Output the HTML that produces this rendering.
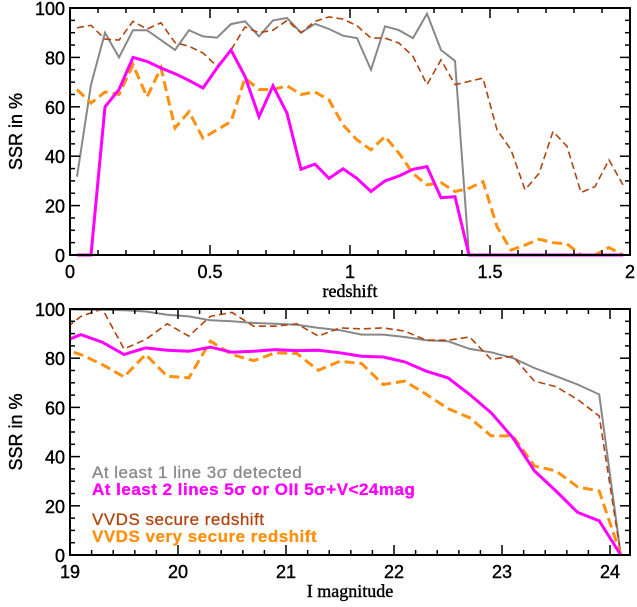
<!DOCTYPE html>
<html><head><meta charset="utf-8"><style>
html,body{margin:0;padding:0;background:#fff;}
svg{display:block;font-family:"Liberation Sans",sans-serif;}
</style></head><body>
<svg id="c" width="637" height="607" viewBox="0 0 637 607"></svg>
<script>
// ---- top panel data (redshift) ----
const zBins = [];
for (let k = 0; k < 40; k++) zBins.push(0.025 + 0.05 * k);
const topGray = [31.7,69,90,80,91,91,87,83,91,88.5,88,93.5,94.6,88.5,95,96,90,93.6,91.5,88.8,87.8,75,92.6,91,87.8,97.7,83,78.6,0,0,0,0,0,0,0,0,0,0,0,0];
const topBrown = [92,93,87.4,87,94.6,91.5,94,86,84.5,81.8,76.4,83,92.3,90,91,95,90,94.6,96.4,95.5,92.8,87.8,87.8,85.8,80.4,69,79,69,70.3,71.6,50.7,42.6,26.4,33,50,44,25.3,27.7,38.5,28.4];
const topOrange = [67,61.5,66,65,77,64,75.7,51.4,58,47.3,50.7,54,71.6,67,67,68.5,65,66,62.8,52.7,46.6,42.6,48,41.2,33,28.4,29.3,25.7,27,29.7,11.5,2,4,6.4,5,4.5,0,0,3,0];
const topMagenta = [0,0,60,67,80,78.4,75.7,73.4,70.7,67.6,75.7,83,72.3,56,68.5,57.4,34.7,36.8,31,34.9,31,25.7,30,32,34.7,35.8,23.2,23.6,0,0,0,0,0,0,0,0,0,0,0,0];
const topXTicks = ["0","0.5","1","1.5","2"];
const yTicks = ["0","20","40","60","80","100"];
// ---- bottom panel data (I magnitude) ----
const magBins = [18.9,19.1,19.3,19.5,19.7,19.9,20.1,20.3,20.5,20.7,20.9,21.1,21.3,21.5,21.7,21.9,22.1,22.3,22.5,22.7,22.9,23.1,23.3,23.5,23.7,23.9,24.1];
const botGray = [100,99.7,99.7,99.5,99,97.7,97,95.4,95,94.3,94,93.6,92.3,91.4,89.6,89.6,88.6,87.3,86.9,83.8,82.4,80.1,76,72.7,69.3,65.3,0];
const botBrown = [90,97,100,83.8,87.6,94,89,97,98.6,93,93,94,89,92.3,91.9,92.3,91,87.3,87.3,88.6,79.5,80.8,70.7,68.4,63.2,56.5,0];
const botMagenta = [86,89.6,86.5,81.5,84.2,83.2,82.8,84.5,82.4,82.8,83.5,83.1,83.2,82.2,80.8,80.5,78.5,74.7,72,65.3,57.8,47.7,34.2,26,17.3,13.9,0];
const botOrange = [84,81.5,77.4,72.4,81.5,72.7,72,86.9,81.5,79,82.2,81.9,75.1,78.8,77.8,69.3,70.7,65.3,59.5,55.8,48.4,48.4,36.2,34.2,27.7,26,0];
const botXTicks = ["19","20","21","22","23","24"];

const NS = "http://www.w3.org/2000/svg";
const svg = document.getElementById("c");
function mk(tag, attrs, parent) {
  const e = document.createElementNS(NS, tag);
  for (const k in attrs) e.setAttribute(k, attrs[k]);
  (parent || svg).appendChild(e);
  return e;
}
const styles = {
  gray: {stroke:"#888888","stroke-width":2,fill:"none"},
  brown: {stroke:"#b0450f","stroke-width":1.6,fill:"none","stroke-dasharray":"7,4"},
  orange: {stroke:"#ff9010","stroke-width":3,fill:"none","stroke-dasharray":"10,5"},
  magenta: {stroke:"#ff00ff","stroke-width":3,fill:"none"}
};
const txtStroke = {stroke: "#000", "stroke-width": 0.4};
function panel(cfg) {
  const g = mk("g", {});
  
  
  const sx = v => cfg.x0 + (v - cfg.xmin) / (cfg.xmax - cfg.xmin) * (cfg.x1 - cfg.x0);
  const sy = v => cfg.yb - v / 100 * (cfg.yb - cfg.yt);
  const cid = cfg.name + "-clip";
  const cp = mk("clipPath", {id: cid}, g);
  mk("rect", {x: cfg.x0, y: cfg.yt - 2, width: cfg.x1 - cfg.x0, height: cfg.yb - cfg.yt + 4}, cp);
  const lines = mk("g", {"clip-path": "url(#" + cid + ")"}, g);
  cfg.series.forEach(s => {
    const d = s.vals.map((v, i) => (i ? "L" : "M") + sx(cfg.xs[i]).toFixed(1) + "," + sy(v).toFixed(1)).join(" ");
    const p = mk("path", Object.assign({d: d}, styles[s.style]), lines);
    
    
  });
  const fr = mk("rect", {x: cfg.x0, y: cfg.yt, width: cfg.x1 - cfg.x0, height: cfg.yb - cfg.yt, fill: "none", stroke: "#000", "stroke-width": 2}, g);
  
  
  const tk = mk("g", {stroke: "#000", "stroke-width": 1.5}, g);
  for (let v = cfg.xmin; v <= cfg.xmax + 1e-9; v += cfg.xminor) {
    const vv = Math.round(v * 1000) / 1000;
    const major = Math.abs(vv / cfg.xmajor - Math.round(vv / cfg.xmajor)) < 1e-6;
    const L = major ? 10 : 5, x = sx(vv);
    mk("line", {x1: x, x2: x, y1: cfg.yb, y2: cfg.yb - L}, tk);
    mk("line", {x1: x, x2: x, y1: cfg.yt, y2: cfg.yt + L}, tk);
  }
  for (let v = 0; v <= 100; v += 5) {
    const major = v % 20 === 0, L = major ? 10 : 5, y = sy(v);
    mk("line", {x1: cfg.x0, x2: cfg.x0 + L, y1: y, y2: y}, tk);
    mk("line", {x1: cfg.x1, x2: cfg.x1 - L, y1: y, y2: y}, tk);
  }
  cfg.xlabels.forEach(t => {
    const e = mk("text", Object.assign({x: sx(parseFloat(t)), y: cfg.yb + 23, "text-anchor": "middle", "font-size": 18}, txtStroke), g);
    e.textContent = t;
    
    
  });
  yTicks.forEach(t => {
    const e = mk("text", Object.assign({x: cfg.x0 - 5, y: sy(parseFloat(t)) + 7, "text-anchor": "end", "font-size": 18}, txtStroke), g);
    e.textContent = t;
    
    
  });
  const xt = mk("text", Object.assign({x: (cfg.x0 + cfg.x1) / 2, y: cfg.yb + 42, "text-anchor": "middle", "font-size": 18, "font-family": "Liberation Serif, serif"}, txtStroke), g);
  xt.textContent = cfg.xtitle;
  
  
  const yc = (cfg.yt + cfg.yb) / 2;
  const yt = mk("text", Object.assign({x: 22, y: yc, "text-anchor": "middle", "font-size": 18, transform: "rotate(-90 22 " + yc + ")"}, txtStroke), g);
  yt.textContent = "SSR in %";
  
  
}
panel({name: "redshift-panel", x0: 70, x1: 630, xmin: 0, xmax: 2, yt: 8, yb: 255, xminor: 0.1, xmajor: 0.5,
  xs: zBins, xlabels: topXTicks, xtitle: "redshift",
  series: [{vals: topGray, style: "gray", name: "line-3sigma-z"}, {vals: topBrown, style: "brown", name: "vvds-secure-z"},
           {vals: topOrange, style: "orange", name: "vvds-very-secure-z"}, {vals: topMagenta, style: "magenta", name: "line-5sigma-z"}]});
panel({name: "magnitude-panel", x0: 70, x1: 630, xmin: 19, xmax: 24.185, yt: 309, yb: 555, xminor: 0.2, xmajor: 1,
  xs: magBins, xlabels: botXTicks, xtitle: "I magnitude",
  series: [{vals: botGray, style: "gray", name: "line-3sigma-mag"}, {vals: botBrown, style: "brown", name: "vvds-secure-mag"},
           {vals: botOrange, style: "orange", name: "vvds-very-secure-mag"}, {vals: botMagenta, style: "magenta", name: "line-5sigma-mag"}]});
const legend = [
  ["At least 1 line 3\u03c3 detected", "#888888", 478, "normal", "legend-entry-3sigma"],
  ["At least 2 lines 5\u03c3 or OII 5\u03c3+V<24mag", "#ff00ff", 495, "bold", "legend-entry-5sigma"],
  ["VVDS secure redshift", "#b0450f", 525, "normal", "legend-entry-vvds-secure"],
  ["VVDS very secure redshift", "#ff9010", 542, "bold", "legend-entry-vvds-very-secure"]
];
legend.forEach(l => {
  const e = mk("text", {x: 92, y: l[2], fill: l[1], stroke: l[1], "stroke-width": 0.3, "font-size": 17, "font-weight": l[3], "letter-spacing": 0.5});
  e.textContent = l[0];
  
  
});
</script>
</body></html>
